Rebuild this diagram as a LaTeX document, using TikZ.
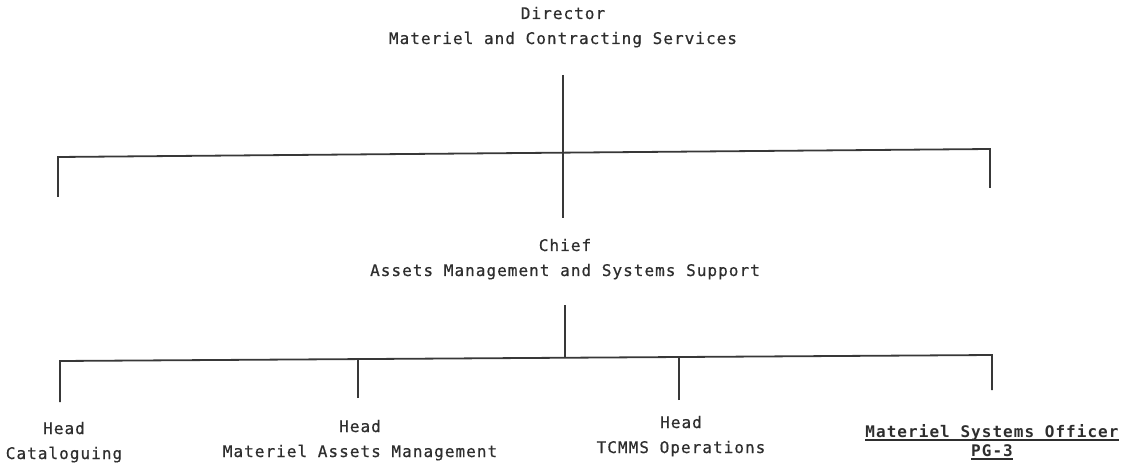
\documentclass[tikz,border=0pt]{standalone}
\usepackage{fontspec}
\newfontfamily\tw[LetterSpace=6.5,FakeBold=0.6]{DejaVu Sans Mono}
\newfontfamily\twb[LetterSpace=6.5]{DejaVu Sans Mono Bold}
\newsavebox{\ulsave}
\newcommand{\myul}[1]{\sbox{\ulsave}{#1}\rlap{\rule[-3.5pt]{\wd\ulsave}{1.6pt}}\usebox{\ulsave}}
\begin{document}
\begin{tikzpicture}[x=1pt,y=-1pt,
  lbl/.style={font=\tw\fontsize{16}{25}\selectfont, text=black!82, align=center, inner sep=0pt, anchor=base},
  conn/.style={line width=1.8pt, draw=black!78, line cap=butt}]
\useasboundingbox (0,0) rectangle (1129,470);
% titles (anchor = baseline of the last line)
\node[lbl] (dir) at (563,44) {Director\\Materiel and Contracting Services};
\node[lbl] (chief) at (565,276) {Chief\\Assets Management and Systems Support};
\node[lbl] (cat) at (64,459) {Head\\Cataloguing};
\node[lbl] (mam) at (360,457) {Head\\Materiel Assets Management};
\node[lbl] (tcm) at (681,453) {Head\\TCMMS Operations};
\node[lbl, font=\twb\fontsize{16}{19}\selectfont] (mso) at (992,456) {\myul{Materiel Systems Officer}\\\myul{PG-3}};
% free ends of the upper bar
\coordinate (ul) at (58,197);
\coordinate (ur) at (990,188);
% connectors
\draw[conn] (dir |- 0,75) -- (dir |- 0,218);
\draw[conn] (ul) -- (58,157) -- (990,149) -- (ur);
\draw[conn] (chief |- 0,305) -- (chief |- 0,358);
\draw[conn] (60,402) -- (60,361) -- (992,355) -- (992,390);
\draw[conn] (358,398) -- (358,359.5);
\draw[conn] (679,400) -- (679,357);
\end{tikzpicture}
\end{document}
